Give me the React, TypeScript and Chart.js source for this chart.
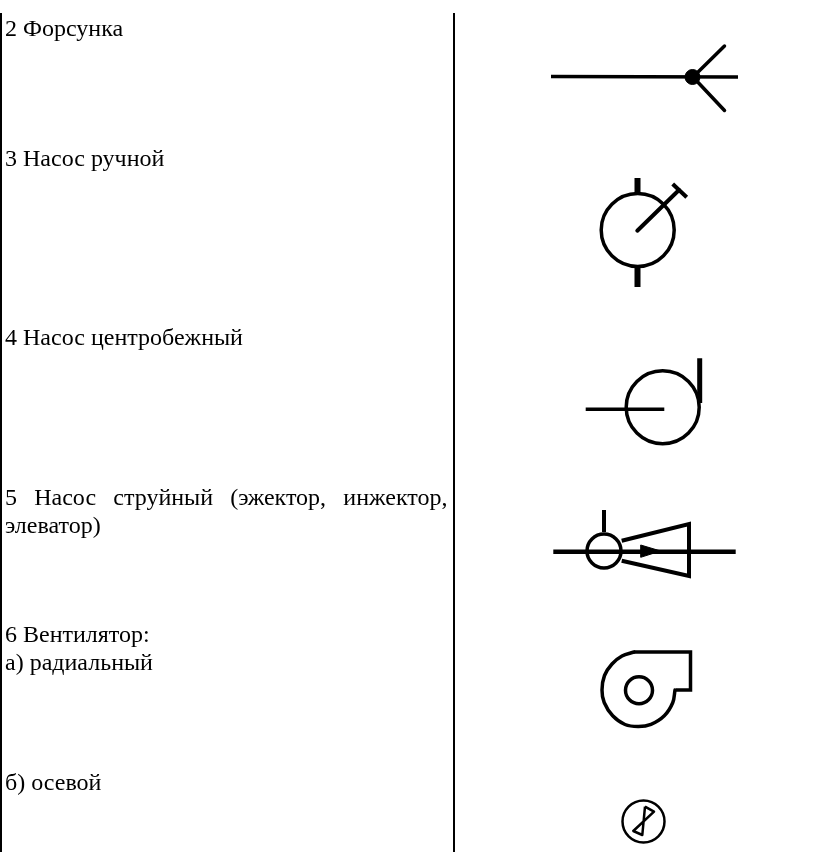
import React, { useEffect, useRef } from "react";
import { Chart, registerables } from "chart.js";

Chart.register(...registerables);

type P = { x: number; y: number };
const pts = (a: number[][]): P[] => a.map(([x, y]) => ({ x, y }));

const WIDTH = 832;
const HEIGHT = 852;

// Row captions, their positions and the extra word spacing of the justified line
const rowLabels = [
  "2 Форсунка",
  "3 Насос ручной",
  "4 Насос центробежный",
  "5 Насос струйный (эжектор, инжектор,",
  "элеватор)",
  "6 Вентилятор:",
  "а) радиальный",
  "б) осевой",
];
const rowX = [5, 5, 5, 5, 5, 5, 5, 5];
const rowBaseline = [36, 166, 345, 505, 533, 642, 669.5, 790];
const rowWordSpacing = [0, 0, 0, 11.2, 0, 0, 0, 0];

// Table rules
const leftRule = [[1, 13], [1, 852]];
const midRule = [[454, 13], [454, 852]];

// 2 Nozzle
const nozzleStem = [[551, 76.5], [738, 77]];
const nozzleUp = [[693, 77], [724.5, 46]];
const nozzleDown = [[693, 77], [724.5, 110.5]];
const nozzleHub = [[692.5, 77]];

// 3 Hand pump
const handBody = [[637.7, 230]];
const handStubTop = [[637.5, 178], [637.5, 195]];
const handStubBottom = [[637.5, 267], [637.5, 287]];
const handLever = [[637.3, 230.7], [679, 190]];
const handGrip = [[672.7, 184], [686.7, 197.3]];

// 4 Centrifugal pump
const centBody = [[662.7, 407.3]];
const centShaft = [[585.7, 409.3], [664.3, 409.3]];
const centTail = [[699.7, 358.3], [699.7, 403]];

// 5 Jet pump
const jetLine = [[553.3, 551.7], [735.7, 551.7]];
const jetBody = [[604, 551]];
const jetStub = [[604, 510], [604, 532]];
const jetCone = [[621.7, 540.7], [689, 524], [689, 576], [621.7, 560.7]];
const jetArrow = [[640.7, 545], [660.7, 551], [640.7, 557.3], [640.7, 545]];

// 6a Radial fan
const fanOutlet = [[634, 652], [690.5, 652], [690.5, 690], [676, 690]];
const fanVolute = [
  [675, 690], [672.8, 702.5], [664.3, 715.8], [651, 724.3], [638.5, 726.5], [625, 724.5],
  [612.7, 715.8], [604.2, 702.5], [602, 690], [604.5, 675.5], [612, 664], [622, 656], [634, 652],
];
const fanHub = [[639, 690.3]];

// 6b Axial fan
const axialBody = [[643.5, 821.5]];
const axialBlade = [[645, 806.7], [654, 811.7], [633.3, 831], [642.3, 835], [645, 806.7]];

const INK = "#000000";

const line = (data: number[][], borderWidth: number, extra: Record<string, unknown> = {}) => ({
  type: "line" as const,
  data: pts(data),
  showLine: true,
  borderColor: INK,
  backgroundColor: INK,
  borderWidth,
  pointRadius: 0,
  pointHoverRadius: 0,
  fill: false,
  clip: false,
  ...extra,
});

const ring = (data: number[][], radius: number, width: number, fill = "rgba(0,0,0,0)") => ({
  type: "scatter" as const,
  data: pts(data),
  showLine: false,
  pointStyle: "circle",
  pointRadius: radius,
  pointHoverRadius: radius,
  pointBorderWidth: width,
  pointBorderColor: INK,
  pointBackgroundColor: fill,
  clip: false,
});

const captions = {
  id: "captions",
  afterDatasetsDraw(chart: Chart) {
    const { ctx, scales } = chart;
    ctx.save();
    ctx.fillStyle = "#000";
    ctx.font = '24px "Liberation Serif"';
    ctx.textBaseline = "alphabetic";
    ctx.textAlign = "left";
    rowLabels.forEach((label, i) => {
      (ctx as any).wordSpacing = `${rowWordSpacing[i]}px`;
      ctx.fillText(label, scales.x.getPixelForValue(rowX[i]), scales.y.getPixelForValue(rowBaseline[i]));
    });
    ctx.restore();
  },
};

export default function App() {
  const ref = useRef<HTMLCanvasElement>(null);
  useEffect(() => {
    const chart = new Chart(ref.current!, {
      type: "scatter",
      data: {
        datasets: [
          line(leftRule, 2),
          line(midRule, 2),
          line(nozzleStem, 3.5),
          line(nozzleUp, 3.5, { borderCapStyle: "round" }),
          line(nozzleDown, 3.5, { borderCapStyle: "round" }),
          ring(nozzleHub, 7.5, 1, INK),
          ring(handBody, 36.5, 3.5),
          line(handStubTop, 6),
          line(handStubBottom, 6),
          line(handLever, 4, { borderCapStyle: "round" }),
          line(handGrip, 4),
          ring(centBody, 36.5, 3.5),
          line(centShaft, 3.5),
          line(centTail, 5),
          line(jetLine, 4.5),
          ring(jetBody, 17, 3.5),
          line(jetStub, 4),
          line(jetCone, 4, { borderJoinStyle: "miter" }),
          line(jetArrow, 1, { fill: "shape" }),
          line(fanOutlet, 3.5, { borderJoinStyle: "miter" }),
          line(fanVolute, 3.5, { tension: 0.35, borderCapStyle: "round" }),
          ring(fanHub, 13.5, 3.5),
          ring(axialBody, 21, 2.5),
          line(axialBlade, 2.5, { borderJoinStyle: "round" }),
        ] as any,
      },
      options: {
        animation: false,
        responsive: false,
        events: [],
        layout: { padding: 0, autoPadding: false },
        plugins: { legend: { display: false }, tooltip: { enabled: false } },
        scales: {
          x: { type: "linear", min: 0, max: WIDTH, display: false },
          y: { type: "linear", min: 0, max: HEIGHT, reverse: true, display: false },
        },
      },
      plugins: [captions],
    });
    return () => chart.destroy();
  }, []);
  return (
    <canvas
      ref={ref}
      width={WIDTH}
      height={HEIGHT}
      style={{ position: "absolute", left: 0, top: 0, display: "block", background: "#fff" }}
    />
  );
}
